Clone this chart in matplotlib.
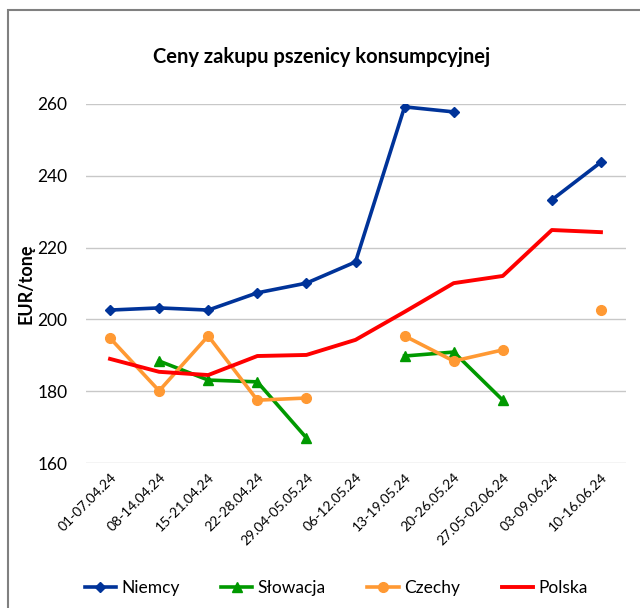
import numpy as np
import matplotlib.pyplot as plt
from matplotlib.patches import Rectangle

plt.rcParams['font.family'] = ['Lato', 'DejaVu Sans']

okresy = ['01-07.04.24', '08-14.04.24', '15-21.04.24', '22-28.04.24', '29.04-05.05.24',
          '06-12.05.24', '13-19.05.24', '20-26.05.24', '27.05-02.06.24', '03-09.06.24',
          '10-16.06.24']
nan = np.nan
niemcy = [202.6, 203.2, 202.6, 207.4, 210.1, 216.0, 259.2, 257.8, nan, 233.3, 243.8]
slowacja = [nan, 188.4, 183.1, 182.6, 167.0, nan, 189.8, 190.9, 177.5, nan, nan]
czechy = [194.8, 180.1, 195.4, 177.5, 178.1, nan, 195.4, 188.4, 191.5, nan, 202.6]
polska = [189.0, 185.4, 184.5, 189.8, 190.1, 194.3, 202.1, 210.1, 212.1, 224.9, 224.3]

fig = plt.figure(figsize=(6.4, 6.08), dpi=100)
fig.patches.append(Rectangle((8/640, -0.1), 1.2, 1 - 10/608 + 0.1, transform=fig.transFigure,
                             fill=False, edgecolor='#808080', linewidth=1.5))
ax = fig.add_axes([85.5/640, 145/608, 540/640, 359/608])

x = np.arange(len(okresy))
ax.plot(x, niemcy, '-D', color='#003399', lw=2.6, ms=5.5, label='Niemcy')
ax.plot(x, slowacja, '-^', color='#009900', lw=2.6, ms=7, label='Słowacja')
ax.plot(x, czechy, '-o', color='#FF9933', lw=2.6, ms=7, label='Czechy')
ax.plot(x, polska, '-', color='#FF0000', lw=2.8, label='Polska')

ax.set_xlim(-0.5, len(okresy) - 0.5)
ax.set_ylim(160, 260)
ax.set_yticks([160, 180, 200, 220, 240, 260])
ax.set_xticks(x)
ax.set_xticklabels(okresy, rotation=45, ha='right', rotation_mode='anchor', fontsize=10)
ax.tick_params(axis='both', length=0)
ax.tick_params(axis='y', labelsize=12.5, pad=13)
ax.tick_params(axis='x', pad=6)
ax.grid(axis='y', color='#c8c8c8', lw=1)
ax.set_axisbelow(True)
for s in ax.spines.values():
    s.set_visible(False)

ax.set_ylabel('EUR/tonę', fontsize=13, fontweight='bold', labelpad=2)
fig.text(0.502, 1 - 57/608, 'Ceny zakupu pszenicy konsumpcyjnej', ha='center', va='center',
         fontsize=14.5, fontweight='bold')

fig.legend(loc='center', bbox_to_anchor=(336/640, 1 - 588/608), ncol=4, frameon=False,
           fontsize=12.5, columnspacing=2.4, handlelength=1.8, handletextpad=0.3)

plt.savefig('out.png', dpi=100)
plt.close()
